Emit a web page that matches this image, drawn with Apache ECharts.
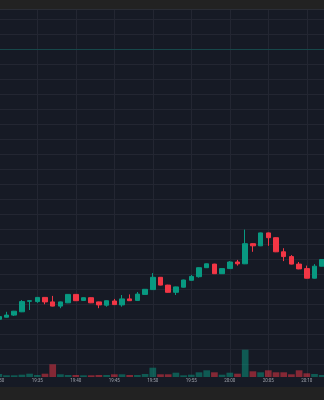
<!DOCTYPE html>
<html>
<head>
<meta charset="utf-8">
<script src="https://cdn.jsdelivr.net/npm/echarts@6/dist/echarts.min.js"></script>
<style>
html,body{margin:0;padding:0;background:#161a25;}
#chart{width:324px;height:400px;}
</style>
</head>
<body>
<div id="chart"></div>
<script>
// ---- data (1-minute candles, 19:30 .. 20:13) ----
const times = ['19:30','19:31','19:32','19:33','19:34','19:35','19:36','19:37','19:38','19:39',
  '19:40','19:41','19:42','19:43','19:44','19:45','19:46','19:47','19:48','19:49',
  '19:50','19:51','19:52','19:53','19:54','19:55','19:56','19:57','19:58','19:59',
  '20:00','20:01','20:02','20:03','20:04','20:05','20:06','20:07','20:08','20:09',
  '20:10','20:11','20:12','20:13'];
// [open, close, low, high]
const ohlc = [
  [61.50,61.59,61.48,61.60],
  [61.57,61.64,61.56,61.75],
  [61.64,61.77,61.61,61.78],
  [61.75,62.09,61.74,62.14],
  [62.10,62.12,61.81,62.12],
  [62.09,62.23,62.05,62.24],
  [62.23,62.08,62.00,62.24],
  [62.08,61.94,61.93,62.28],
  [61.94,62.08,61.87,62.09],
  [62.05,62.33,62.04,62.34],
  [62.33,62.12,62.11,62.34],
  [62.13,62.22,62.12,62.23],
  [62.22,62.05,62.04,62.23],
  [62.08,61.98,61.87,62.09],
  [61.97,62.12,61.92,62.13],
  [62.11,61.99,61.98,62.18],
  [61.98,62.18,61.92,62.31],
  [62.18,62.12,62.11,62.33],
  [62.13,62.34,62.12,62.41],
  [62.33,62.50,62.32,62.51],
  [62.49,62.90,62.48,63.04],
  [62.90,62.64,62.63,62.91],
  [62.64,62.40,62.39,62.65],
  [62.40,62.58,62.31,62.59],
  [62.57,62.81,62.56,62.82],
  [62.80,62.93,62.79,62.98],
  [62.92,63.22,62.89,63.23],
  [63.22,63.35,63.21,63.36],
  [63.34,63.02,63.01,63.35],
  [63.02,63.19,63.01,63.20],
  [63.19,63.41,63.18,63.44],
  [63.41,63.35,63.29,63.48],
  [63.35,64.02,63.34,64.49],
  [64.02,63.95,63.75,64.03],
  [63.95,64.38,63.94,64.39],
  [64.38,64.22,63.95,64.39],
  [64.22,63.75,63.74,64.23],
  [63.75,63.59,63.44,63.87],
  [63.59,63.34,63.33,63.64],
  [63.34,63.18,63.17,63.41],
  [63.19,62.87,62.86,63.29],
  [62.87,63.27,62.86,63.34],
  [63.27,63.49,63.26,63.50]
];
const volumes = [90,51,51,69,99,60,99,381,81,60,60,51,51,60,60,81,81,60,60,90,
  279,81,81,129,51,69,141,201,141,69,129,99,819,171,141,201,141,141,81,201,111,90,60];
const refLevel = 70.5;
const priceMin = 60, priceMax = 71.5, priceStep = 0.5;
const volMax = 11010;

const UP = '#089981', DOWN = '#f23645';
const UP_V = 'rgba(8,153,129,0.5)', DOWN_V = 'rgba(242,54,69,0.5)';
const GRID_LINE = '#232632';
const REF_LINE = '#17474a';

const chart = echarts.init(document.getElementById('chart'), null, {renderer:'canvas'});
const every5 = (i) => i % 5 === 0;

chart.setOption({
  animation: false,
  backgroundColor: '#161a25',
  grid: [
    {left: -1.2, right: -5.9, top: 19.3, bottom: 35.7, containLabel:false, outerBoundsMode:'none'},
    {left: -1.2, right: -5.9, top: 10, bottom: 23, containLabel:false, outerBoundsMode:'none'}
  ],
  xAxis: [
    {type:'category', gridIndex:0, data: times, boundaryGap:false,
     axisLine:{show:false}, axisTick:{show:false}, axisLabel:{show:false}, splitLine:{show:false}},
    {type:'category', gridIndex:1, data: times, boundaryGap:false,
     axisLine:{show:false}, axisTick:{show:false},
     axisLabel:{show:true, interval: (i) => every5(i), color:'#9da1ab', fontSize:4.5,
       fontFamily:'Roboto, sans-serif', margin:1.5, hideOverlap:false},
     splitLine:{show:true, interval: (i) => every5(i), lineStyle:{color:GRID_LINE, width:1}}}
  ],
  yAxis: [
    {type:'value', gridIndex:0, min:priceMin, max:priceMax, interval:priceStep, scale:false,
     axisLine:{show:false}, axisTick:{show:false}, axisLabel:{show:false},
     splitLine:{show:true, lineStyle:{color:GRID_LINE, width:1}}},
    {type:'value', gridIndex:1, min:0, max:volMax,
     axisLine:{show:false}, axisTick:{show:false}, axisLabel:{show:false}, splitLine:{show:false}}
  ],
  series: [
    {type:'bar', xAxisIndex:1, yAxisIndex:1, barWidth:6.7, z:1,
     data: volumes.map((v,i) => ({value:v, itemStyle:{color: ohlc[i][1] >= ohlc[i][0] ? UP_V : DOWN_V}}))},
    {type:'candlestick', xAxisIndex:0, yAxisIndex:0, barWidth:5, clip:false, z:3,
     itemStyle:{color:UP, color0:DOWN, borderColor:UP, borderColor0:DOWN, borderWidth:1},
     data: ohlc,
     markLine:{silent:true, symbol:['none','none'], label:{show:false},
       emphasis:{disabled:true},
       lineStyle:{color:REF_LINE, width:1, type:'solid', opacity:1},
       data:[{yAxis: refLevel, lineStyle:{color:REF_LINE, width:1, type:'solid'}}]}}
  ],
  graphic: [
    {type:'rect', left:0, top:0, shape:{x:0,y:0,width:324,height:9}, style:{fill:'#222222'}, z:100},
    {type:'rect', left:0, top:9, shape:{x:0,y:0,width:324,height:1}, style:{fill:'#2a2d36'}, z:100},
    {type:'rect', left:0, top:387, shape:{x:0,y:0,width:324,height:13}, style:{fill:'#222222'}, z:100}
  ]
});
</script>
</body>
</html>
